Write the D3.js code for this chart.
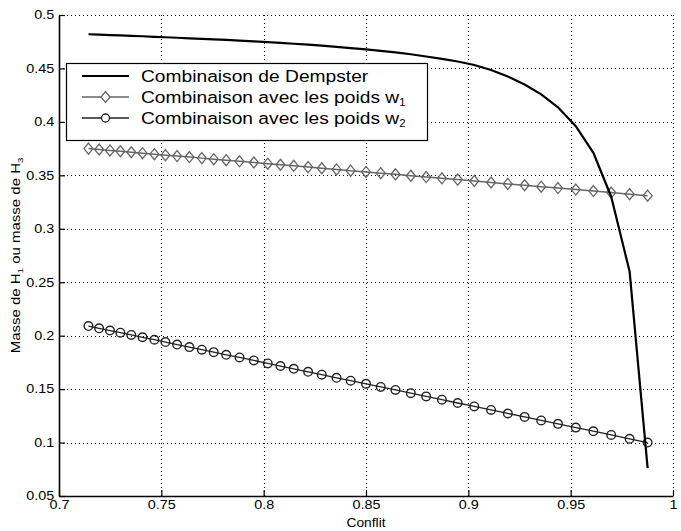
<!DOCTYPE html>
<html><head><meta charset="utf-8">
<script src="https://cdn.jsdelivr.net/npm/d3@7"></script>
<style>body{margin:0;background:#fff}</style>
</head><body><svg id="c" width="681" height="531"></svg>
<script>
const conflit = [0.7144,0.7196,0.7249,0.7300,0.7353,0.7408,0.7466,0.7520,0.7577,0.7637,
  0.7698,0.7756,0.7817,0.7882,0.7952,0.8020,0.8082,0.8147,0.8217,0.8284,
  0.8356,0.8425,0.8500,0.8572,0.8644,0.8719,0.8794,0.8871,0.8948,0.9029,
  0.9111,0.9193,0.9275,0.9356,0.9438,0.9525,0.9611,0.9698,0.9788,0.9876];
const dempster = [0.4820,0.4816,0.4812,0.4809,0.4805,0.4801,0.4796,0.4792,0.4787,0.4782,
  0.4777,0.4772,0.4767,0.4760,0.4753,0.4746,0.4739,0.4731,0.4722,0.4713,
  0.4702,0.4691,0.4679,0.4665,0.4650,0.4633,0.4612,0.4590,0.4565,0.4532,
  0.4485,0.4425,0.4350,0.4258,0.4136,0.3960,0.3710,0.3300,0.2600,0.0760];
const poidsW1 = [0.3750,0.3742,0.3733,0.3725,0.3716,0.3707,0.3698,0.3689,0.3680,0.3671,
  0.3661,0.3651,0.3642,0.3631,0.3620,0.3609,0.3599,0.3589,0.3577,0.3566,
  0.3555,0.3544,0.3532,0.3520,0.3509,0.3496,0.3484,0.3472,0.3460,0.3447,
  0.3433,0.3420,0.3407,0.3394,0.3381,0.3367,0.3353,0.3339,0.3324,0.3310];
const poidsW2 = [0.2090,0.2069,0.2048,0.2028,0.2007,0.1985,0.1962,0.1940,0.1917,0.1893,
  0.1869,0.1846,0.1821,0.1796,0.1768,0.1740,0.1716,0.1690,0.1662,0.1635,
  0.1606,0.1579,0.1549,0.1520,0.1492,0.1462,0.1432,0.1401,0.1370,0.1338,
  0.1305,0.1272,0.1240,0.1207,0.1175,0.1140,0.1106,0.1071,0.1035,0.1000];
const xTicks = [0.7,0.75,0.8,0.85,0.9,0.95,1];
const xTickLabels = ["0.7","0.75","0.8","0.85","0.9","0.95","1"];
const yTicks = [0.05,0.1,0.15,0.2,0.25,0.3,0.35,0.4,0.45,0.5];
const yTickLabels = ["0.05","0.1","0.15","0.2","0.25","0.3","0.35","0.4","0.45","0.5"];
const legendLabels = ["Combinaison de Dempster","Combinaison avec les poids w","Combinaison avec les poids w"];
const legendSubs = ["","1","2"];
const xLabel = "Conflit";

const FONT = "'Liberation Sans', Arial, Helvetica, sans-serif";
const svg = d3.select("#c");
const L = 59, R = 673, T = 15, B = 496;
const x = d3.scaleLinear().domain([0.7,1]).range([L,R]);
const y = d3.scaleLinear().domain([0.05,0.5]).range([B,T]);

// grid
const grid = svg.append("g").attr("stroke","#000").attr("stroke-width",1.1).attr("stroke-dasharray","1,3");
grid.selectAll("line.gx").data(xTicks.slice(1)).enter().append("line")
  .attr("x1",d=>Math.round(x(d))+0.5).attr("x2",d=>Math.round(x(d))+0.5).attr("y1",T).attr("y2",B);
grid.selectAll("line.gy").data(yTicks.slice(1)).enter().append("line")
  .attr("y1",d=>Math.round(y(d))+0.5).attr("y2",d=>Math.round(y(d))+0.5).attr("x1",L).attr("x2",R);

// axes
const ax = svg.append("g").attr("transform",`translate(0,${B})`)
  .call(d3.axisBottom(x).tickValues(xTicks).tickFormat((d,i)=>xTickLabels[i]).tickSizeInner(-6).tickSizeOuter(0).tickPadding(4));
const ay = svg.append("g").attr("transform",`translate(${L},0)`)
  .call(d3.axisLeft(y).tickValues(yTicks).tickFormat((d,i)=>yTickLabels[i]).tickSizeInner(-6).tickSizeOuter(0).tickPadding(4));
[ax,ay].forEach(a=>{
  a.select(".domain").attr("stroke","#000").attr("stroke-width",1.6);
  a.selectAll(".tick line").attr("stroke","#000").attr("stroke-width",1.2);
  a.selectAll(".tick text").attr("font-family",FONT).attr("font-size",12).attr("fill","#000")
    .attr("transform","scale(1.2,1)");
});

// axis labels
svg.append("text").attr("transform",`translate(${(L+R)/2},527) scale(1.15,1)`).attr("text-anchor","middle")
  .attr("font-family",FONT).attr("font-size",12).text(xLabel);
const yl = svg.append("text").attr("transform",`translate(20,${(T+B)/2}) rotate(-90) scale(1.2,1)`)
  .attr("text-anchor","middle").attr("font-family",FONT).attr("font-size",12.5);
yl.append("tspan").text("Masse de H");
yl.append("tspan").attr("font-size",8).attr("dy",3).text("1");
yl.append("tspan").attr("dy",-3).text(" ou masse de H");
yl.append("tspan").attr("font-size",8).attr("dy",3).text("3");

// series
const pts = (vals)=>conflit.map((c,i)=>[c,vals[i]]);
const line = d3.line().x(d=>x(d[0])).y(d=>y(d[1]));
svg.append("path").datum(pts(poidsW1)).attr("d",line).attr("fill","none").attr("stroke","#666").attr("stroke-width",1.5);
svg.append("path").datum(pts(poidsW2)).attr("d",line).attr("fill","none").attr("stroke","#222").attr("stroke-width",1.3);
const diamond = (cx,cy)=>`M${cx},${cy-5.5}L${cx+4.5},${cy}L${cx},${cy+5.5}L${cx-4.5},${cy}Z`;
svg.append("g").selectAll("path").data(pts(poidsW1)).enter().append("path")
  .attr("d",d=>diamond(x(d[0]),y(d[1]))).attr("fill","none").attr("stroke","#666").attr("stroke-width",1.3);
svg.append("g").selectAll("circle").data(pts(poidsW2)).enter().append("circle")
  .attr("cx",d=>x(d[0])).attr("cy",d=>y(d[1])).attr("r",4.3).attr("fill","none").attr("stroke","#222").attr("stroke-width",1.4);
svg.append("path").datum(pts(dempster)).attr("d",line).attr("fill","none").attr("stroke","#000").attr("stroke-width",2.2);

// legend
const lg = svg.append("g");
lg.append("rect").attr("x",66.5).attr("y",63.5).attr("width",361).attr("height",77)
  .attr("fill","#fff").attr("stroke","#000").attr("stroke-width",1.2);
const rows = [76,97,118];
const styles = [{c:"#000",w:2.2,m:null},{c:"#666",w:1.5,m:"d"},{c:"#222",w:1.3,m:"o"}];
rows.forEach((ry,i)=>{
  const s = styles[i];
  lg.append("line").attr("x1",82).attr("x2",129).attr("y1",ry).attr("y2",ry).attr("stroke",s.c).attr("stroke-width",s.w);
  if(s.m==="d") lg.append("path").attr("d",diamond(105.5,ry)).attr("fill","#fff").attr("stroke",s.c).attr("stroke-width",1.3);
  if(s.m==="o") lg.append("circle").attr("cx",105.5).attr("cy",ry).attr("r",4).attr("fill","#fff").attr("stroke",s.c).attr("stroke-width",1.3);
  const t = lg.append("text").attr("transform",`translate(141,${ry+6}) scale(1.13,1)`)
    .attr("font-family",FONT).attr("font-size",17);
  t.append("tspan").text(legendLabels[i]);
  if(legendSubs[i]) t.append("tspan").attr("font-size",10).attr("dy",3).text(legendSubs[i]);
});
</script></body></html>
